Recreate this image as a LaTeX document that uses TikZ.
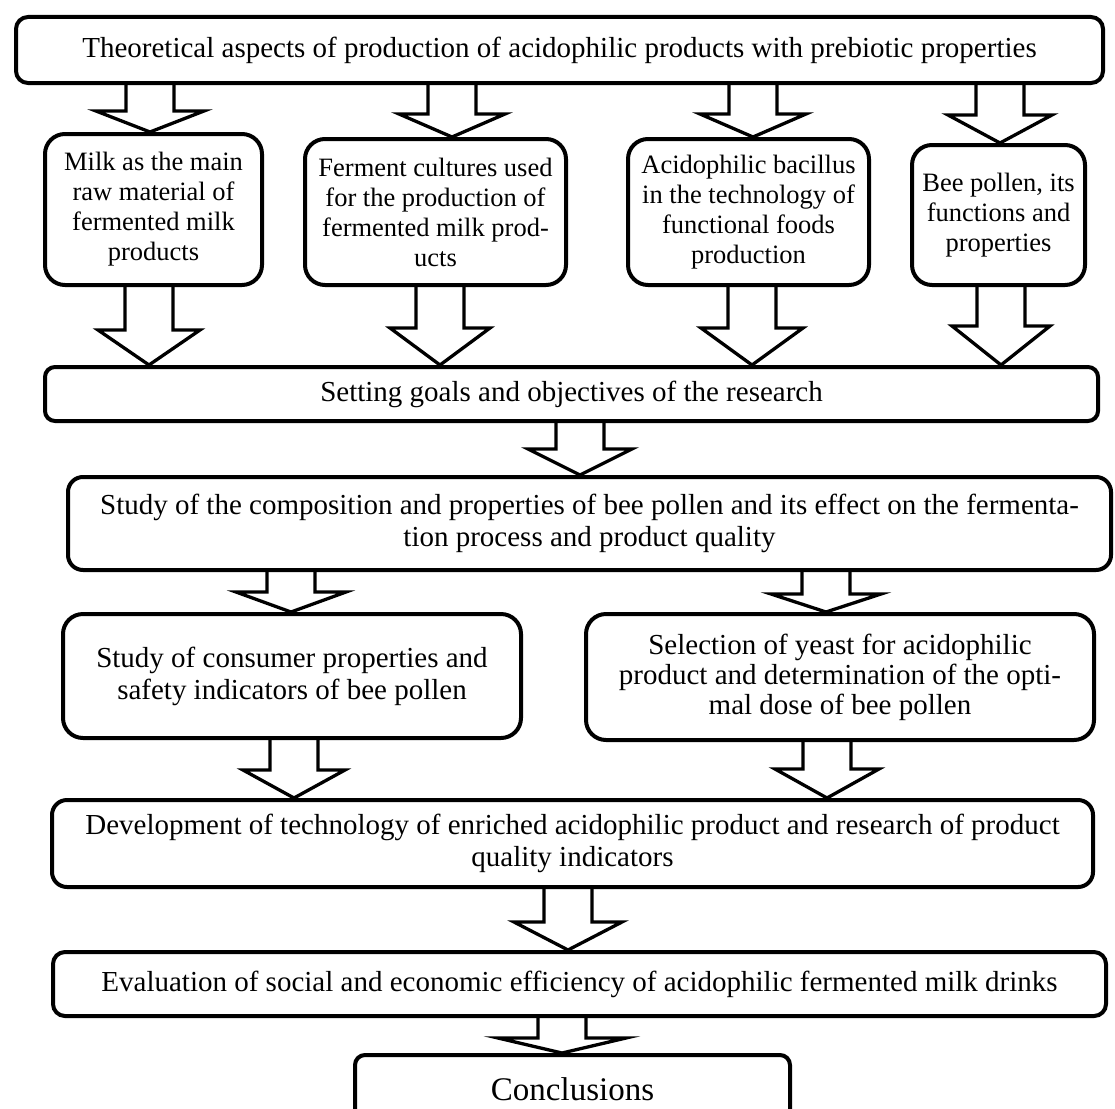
\documentclass[tikz,border=0pt]{standalone}
\usepackage{fontspec}
\setmainfont{Liberation Serif}
\usetikzlibrary{calc}

% hollow block arrow: from, to, x, head length, head half width
\newcommand{\barrow}[5]{%
  \draw[blk] let \p1=(#1.south), \p2=(#2.north) in
    (#3-24,\y1) -- (#3-24,\y2+#4) -- (#3-#5,\y2+#4) -- (#3,\y2)
    -- (#3+#5,\y2+#4) -- (#3+24,\y2+#4) -- (#3+24,\y1);}

\begin{document}
\begin{tikzpicture}[
  x=1pt, y=1pt,
  box/.style={draw, line width=4pt, rounded corners=20pt, align=center, inner sep=2pt,
    font=\fontsize{26.5}{30}\selectfont},
  big/.style={box, font=\fontsize{29}{32}\selectfont},
  wide/.style={big, rounded corners=12pt},
  blk/.style={line width=3.3pt, line join=miter}
]
\useasboundingbox (0,0) rectangle (1115,-1108);
\clip (0,0) rectangle (1115,-1108);
\node[wide, minimum width=1087, minimum height=66] (top) at (559.5,-50)
  {Theoretical aspects of production of acidophilic products with prebiotic properties};
\node[box, minimum width=217, minimum height=151] (milk) at (153.5,-209.5)
  {Milk as the main\\raw material of\\fermented milk\\products};
\node[box, minimum width=261, minimum height=146] (ferm) at (435.5,-212)
  {Ferment cultures used\\for the production of\\fermented milk prod-\\ucts};
\node[box, minimum width=241, minimum height=146] (acido) at (748.5,-212)
  {Acidophilic bacillus\\in the technology of\\functional foods\\production};
\node[box, minimum width=173, minimum height=140] (bee) at (998.5,-215)
  {Bee pollen, its\\functions and\\properties};
\node[wide, rounded corners=10pt, minimum width=1053, minimum height=54] (goals) at (571.5,-394)
  {Setting goals and objectives of the research};
\node[wide, rounded corners=15pt, minimum width=1043, minimum height=93] (study) at (589.5,-523.5)
  {Study of the composition and properties of bee pollen and its effect on the fermenta-\\tion process and product quality};
\node[big, minimum width=458, minimum height=124] (cons) at (292,-676)
  {Study of consumer properties and\\safety indicators of bee pollen};
\node[big, font=\fontsize{29}{30}\selectfont, minimum width=508, minimum height=126] (sel) at (840,-677)
  {Selection of yeast for acidophilic\\product and determination of the opti-\\mal dose of bee pollen};
\node[wide, rounded corners=15pt, minimum width=1041, minimum height=87] (dev) at (572.5,-843.5)
  {Development of technology of enriched acidophilic product and research of product\\quality indicators};
\node[wide, minimum width=1053, minimum height=64] (eval) at (579.5,-984)
  {Evaluation of social and economic efficiency of acidophilic fermented milk drinks};
\node[wide, rounded corners=10pt, minimum width=435, minimum height=68,
  font=\fontsize{33}{36}\selectfont] (concl) at (572.5,-1089) {Conclusions};

\barrow{top}{milk}{150}{21}{54} \barrow{top}{ferm}{452}{23}{53}
\barrow{top}{acido}{753}{23}{53} \barrow{top}{bee}{1000}{28}{52}
\barrow{milk}{goals}{149}{35}{51} \barrow{ferm}{goals}{440}{37}{50}
\barrow{acido}{goals}{752}{37}{51} \barrow{bee}{goals}{1001}{39}{49}
\barrow{goals}{study}{580}{26}{52}
\barrow{study}{cons}{291}{20}{55} \barrow{study}{sel}{826}{18}{55}
\barrow{cons}{dev}{294}{28}{51} \barrow{sel}{dev}{827}{29}{52}
\barrow{dev}{eval}{568}{28}{54}
\barrow{eval}{concl}{562}{15}{64}
\end{tikzpicture}
\end{document}
